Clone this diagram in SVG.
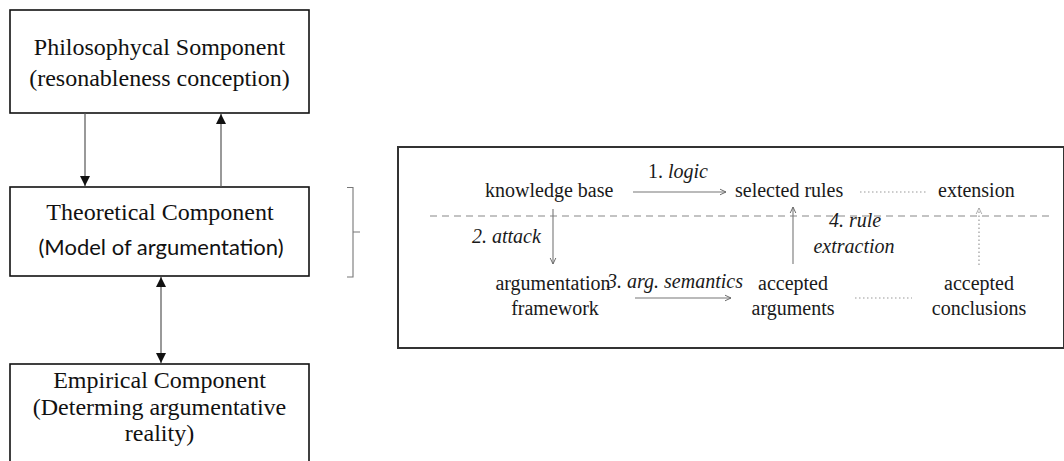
<svg xmlns="http://www.w3.org/2000/svg" width="1064" height="461" viewBox="0 0 1064 461">
  <style>
    .box { fill: #fff; stroke: #111; stroke-width: 1.6; }
    .panel { fill: #fff; stroke: #333; stroke-width: 2; }
    .big { font-size: 24px; }
    .small { font-size: 20px; }
    .it { font-style: italic; }
    .conn { stroke: #555; stroke-width: 1.2; fill: none; }
    .thin { stroke: #777; stroke-width: 1.1; fill: none; }
    .dot { stroke: #999; stroke-width: 1.2; stroke-dasharray: 1.5 2.5; fill: none; }
    .dash { stroke: #888; stroke-width: 1.2; stroke-dasharray: 7 5; fill: none; }
  </style>
  <defs>
    <marker id="solid" viewBox="0 0 10 10" refX="10" refY="5" markerWidth="10" markerHeight="10" markerUnits="userSpaceOnUse" orient="auto-start-reverse">
      <path d="M0,0 L10,5 L0,10 Z" fill="#111"/>
    </marker>
    <marker id="open" viewBox="0 0 10 10" refX="9.5" refY="5" markerWidth="8" markerHeight="8" markerUnits="userSpaceOnUse" orient="auto">
      <path d="M2,1.5 L9.5,5 L2,8.5" fill="none" stroke="#666" stroke-width="1.2"/>
    </marker>
    <marker id="openlight" viewBox="0 0 10 10" refX="9.5" refY="5" markerWidth="8" markerHeight="8" markerUnits="userSpaceOnUse" orient="auto">
      <path d="M2,1.5 L9.5,5 L2,8.5" fill="none" stroke="#aaa" stroke-width="1.2"/>
    </marker>
  </defs>

  <!-- left column: three components -->
  <g font-family="Liberation Serif, Times New Roman, serif" fill="#111">
    <g id="philosophical">
      <rect class="box" x="10" y="10" width="299" height="103"/>
      <text class="big" x="159.5" y="55" text-anchor="middle">Philosophycal Somponent</text>
      <text class="big" x="159.5" y="86" text-anchor="middle">(resonableness conception)</text>
    </g>

    <g id="theoretical">
      <rect class="box" x="10" y="187" width="299" height="89"/>
      <text class="big" x="160" y="220" text-anchor="middle">Theoretical Component</text>
      <text x="161" y="255" text-anchor="middle" font-size="22" font-family="Lato, Open Sans, sans-serif">(Model of argumentation)</text>
    </g>

    <g id="empirical">
      <rect class="box" x="10" y="364" width="299" height="110"/>
      <text class="big" x="159.5" y="388" text-anchor="middle">Empirical Component</text>
      <text class="big" x="159.5" y="415" text-anchor="middle">(Determing argumentative</text>
      <text class="big" x="159.5" y="441" text-anchor="middle">reality)</text>
    </g>
  </g>

  <!-- brace pointing at the model panel -->
  <g id="brace">
    <path class="thin" d="M347,187.5 H353 V277 H347 M353,232 H360"/>
  </g>

  <!-- model of argumentation panel -->
  <g id="panel">
    <rect class="panel" x="398" y="147" width="666" height="201"/>
    <path class="dash" d="M430,216 H1053"/>
  </g>

  <g font-family="Liberation Serif, Times New Roman, serif" fill="#1a1a1a">
    <g id="knowledge-base">
      <text class="small" x="485" y="197">knowledge base</text>
    </g>
    <g id="selected-rules">
      <text class="small" x="735" y="197">selected rules</text>
    </g>
    <g id="extension">
      <text class="small" x="938" y="197">extension</text>
    </g>
    <g id="argumentation-framework">
      <text class="small" x="553" y="290" text-anchor="middle">argumentation</text>
      <text class="small" x="555" y="315" text-anchor="middle">framework</text>
    </g>
    <g id="accepted-arguments">
      <text class="small" x="793" y="290" text-anchor="middle">accepted</text>
      <text class="small" x="793" y="315" text-anchor="middle">arguments</text>
    </g>
    <g id="accepted-conclusions">
      <text class="small" x="979" y="290" text-anchor="middle">accepted</text>
      <text class="small" x="979" y="315" text-anchor="middle">conclusions</text>
    </g>
  </g>

  <!-- connectors -->
  <g id="connectors">
    <line class="conn" x1="85" y1="113" x2="85" y2="186" marker-end="url(#solid)"/>
    <line class="conn" x1="221" y1="187" x2="221" y2="114" marker-end="url(#solid)"/>
    <line class="conn" x1="161" y1="277" x2="161" y2="363" marker-start="url(#solid)" marker-end="url(#solid)"/>

    <line class="thin" x1="633" y1="192" x2="726" y2="192" marker-end="url(#open)"/>
    <line class="thin" x1="553" y1="209" x2="553" y2="264" marker-end="url(#open)"/>
    <line class="thin" x1="635" y1="298" x2="731" y2="298" marker-end="url(#open)"/>
    <line class="thin" x1="793" y1="264" x2="793" y2="207" marker-end="url(#open)"/>
    <line class="dot" x1="979" y1="265" x2="979" y2="208" marker-end="url(#openlight)"/>
    <line class="dot" x1="860" y1="192" x2="928" y2="192"/>
    <line class="dot" x1="855" y1="298" x2="912" y2="298"/>
  </g>

  <!-- connector labels -->
  <g id="labels" font-family="Liberation Serif, Times New Roman, serif" fill="#1a1a1a">
    <text class="small" x="648" y="178">1. <tspan class="it">logic</tspan></text>
    <text class="small it" x="472" y="243">2. attack</text>
    <text class="small it" x="607" y="288">3. arg. semantics</text>
    <text class="small it" x="855" y="227" text-anchor="middle">4. rule</text>
    <text class="small it" x="854" y="253" text-anchor="middle">extraction</text>
  </g>
</svg>
